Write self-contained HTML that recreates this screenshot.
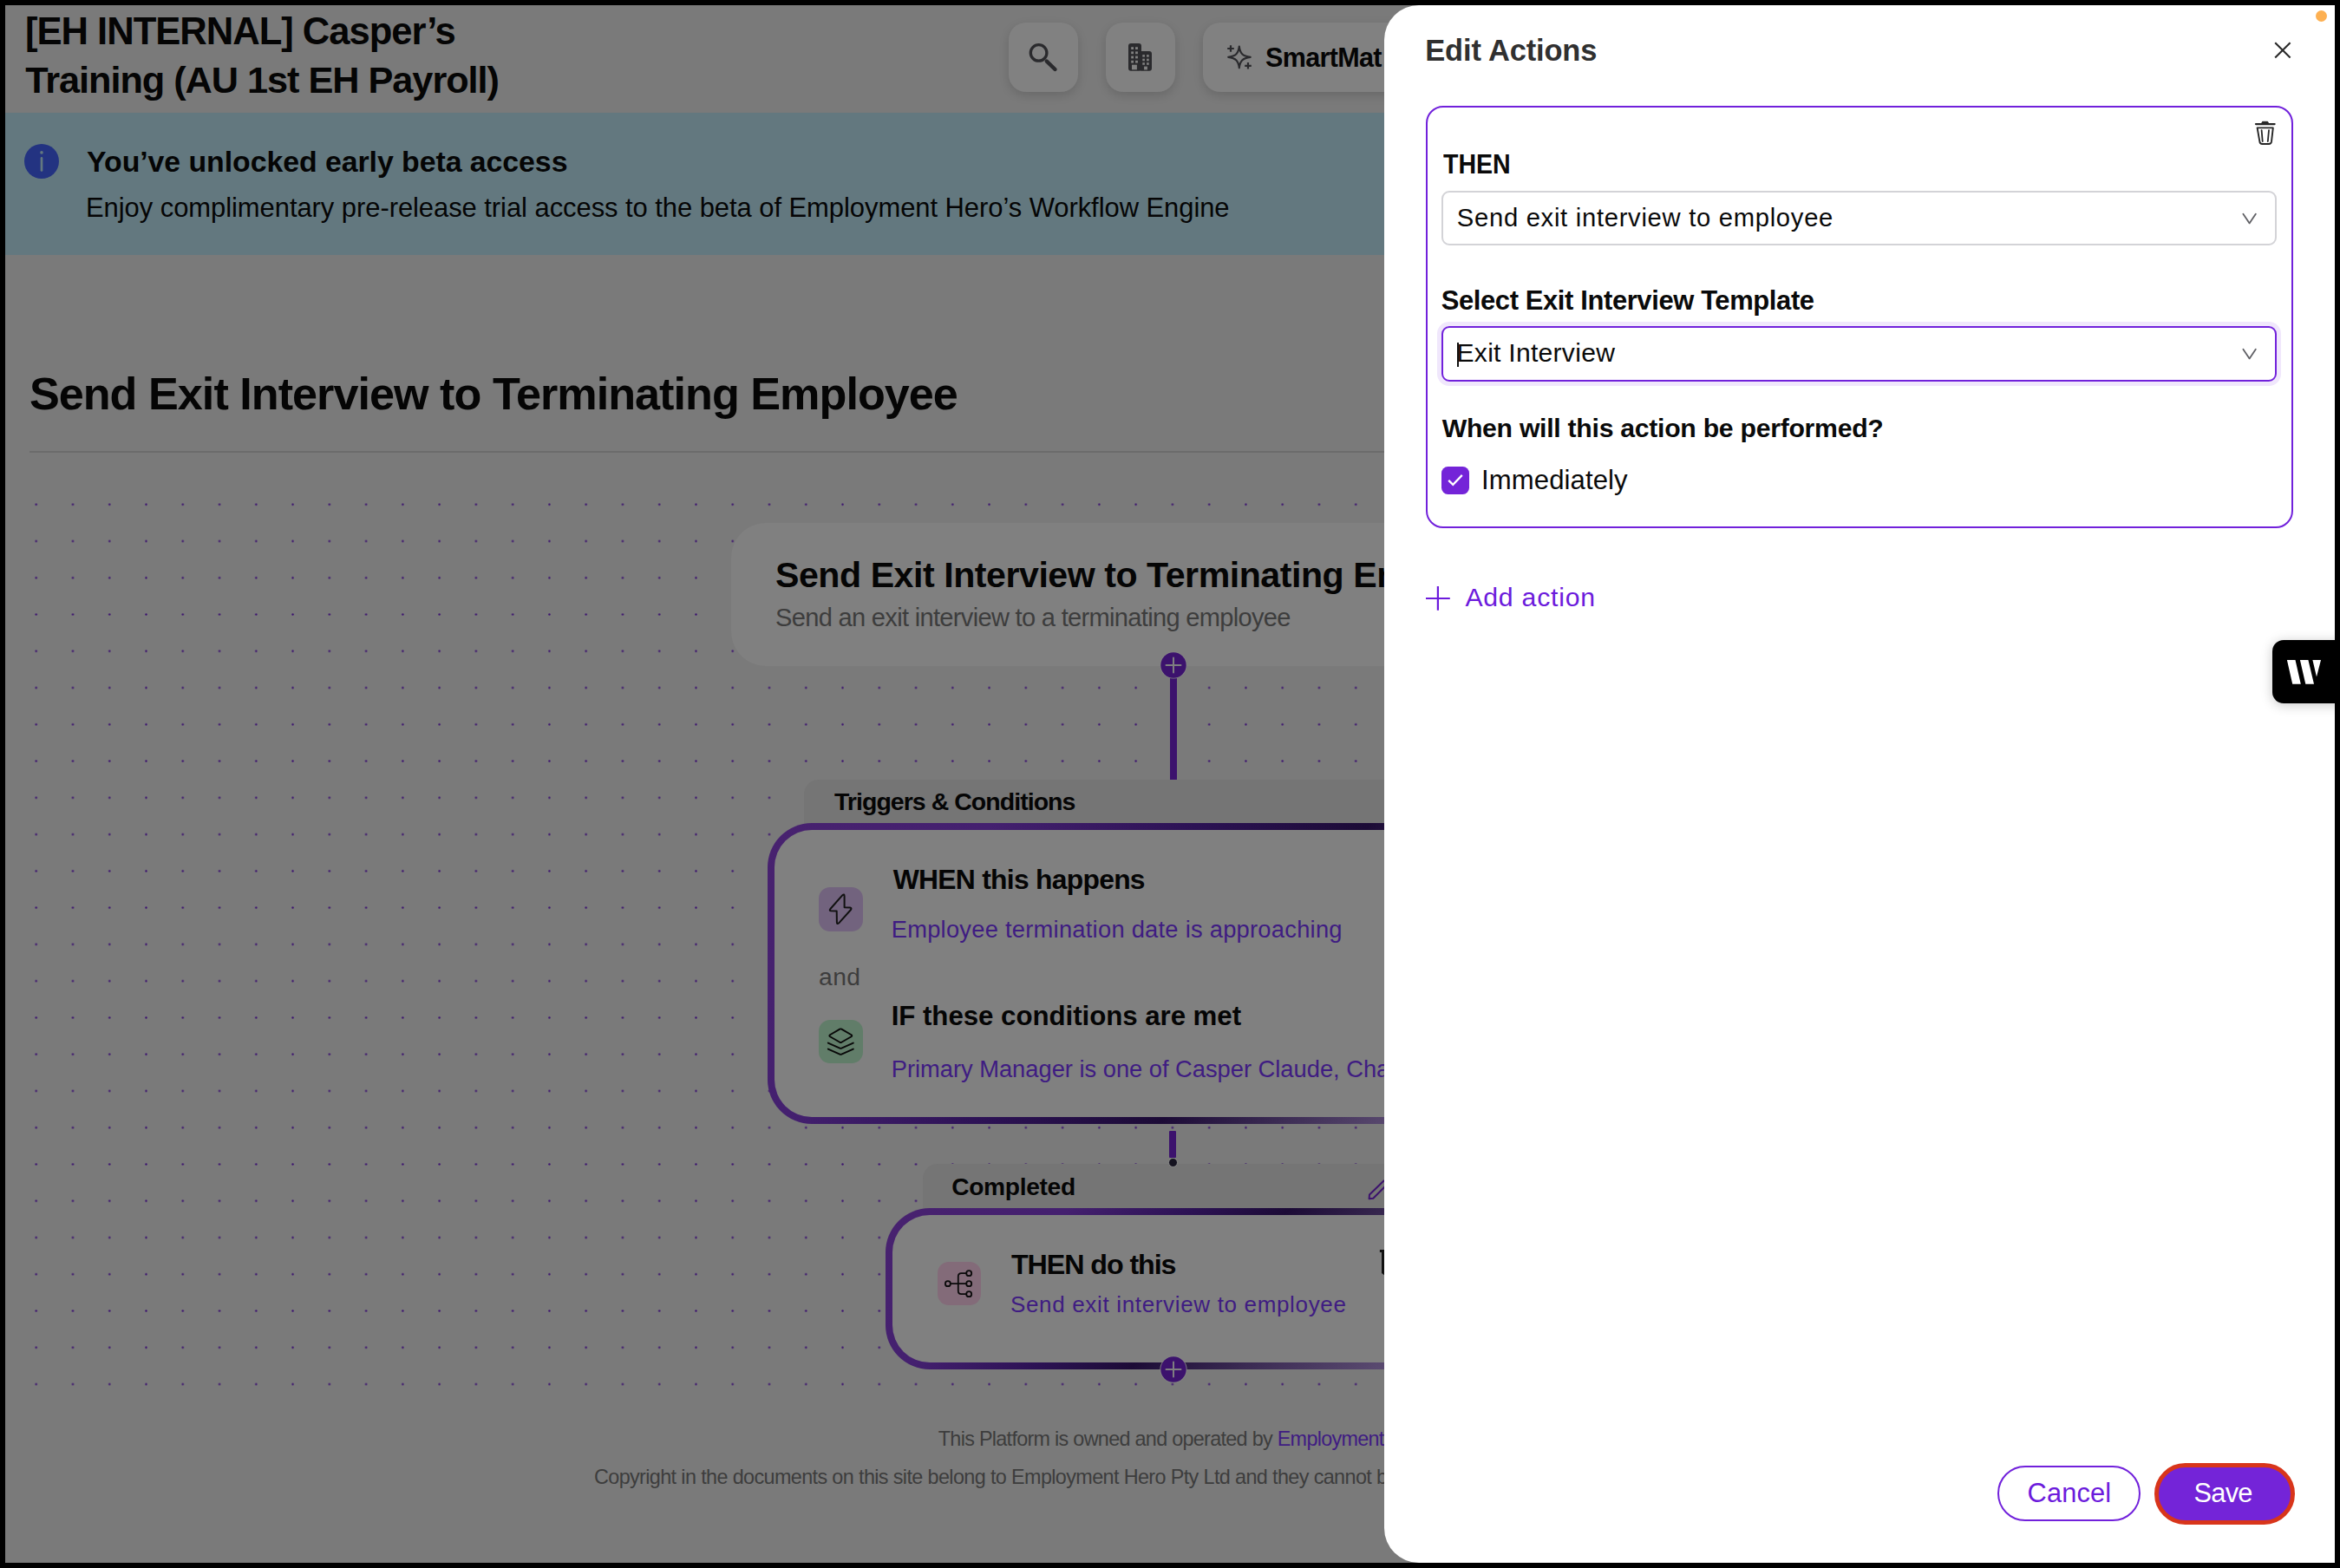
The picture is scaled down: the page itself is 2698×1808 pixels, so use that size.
<!DOCTYPE html><html><head><meta charset="utf-8"><style>
*{box-sizing:border-box;margin:0;padding:0}
html,body{width:2698px;height:1808px;overflow:hidden;background:#000}
body{position:relative;font-family:"Liberation Sans",sans-serif}
.abs{position:absolute}
.tx{position:absolute;white-space:nowrap}
#page{position:absolute;left:6px;top:6px;width:2686px;height:1796px;background:#7a7a7a;overflow:hidden}
.hbtn{position:absolute;top:26px;height:80px;background:#818181;border-radius:20px;box-shadow:0 4px 12px rgba(0,0,0,0.14)}
.ibox{position:absolute;border-radius:13px}
.card{position:absolute;border:8px solid transparent}
#panel{position:absolute;left:1596px;top:6px;width:1096px;height:1796px;background:#fff;border-radius:40px 0 0 40px;overflow:hidden}
</style></head><body>
<div id="page"></div>

<div class="hbtn" style="left:1163px;width:80px"></div>
<div class="hbtn" style="left:1275px;width:80px"></div>
<div class="hbtn" style="left:1387px;width:400px"></div>
<svg class="abs" style="left:1160px;top:20px" width="80" height="80" viewBox="1160 20 80 80"><circle cx="1197.6" cy="60.9" r="9.3" fill="none" stroke="#2a2a2d" stroke-width="3.3"/><line x1="1206.8" y1="70.6" x2="1216.5" y2="80" stroke="#2a2a2d" stroke-width="4.4" stroke-linecap="round"/></svg>
<svg class="abs" style="left:1295px;top:45px" width="40" height="42" viewBox="1295 45 40 42"><rect x="1301" y="50" width="15" height="31.7" rx="3" fill="#2a2a2d"/><rect x="1313" y="59" width="15" height="22.7" rx="3" fill="#2a2a2d"/><rect x="1304.2" y="54.2" width="2.8" height="2.8" fill="#818181"/><rect x="1309.1" y="54.2" width="2.8" height="2.8" fill="#818181"/><rect x="1304.2" y="59.4" width="2.8" height="2.8" fill="#818181"/><rect x="1309.1" y="59.4" width="2.8" height="2.8" fill="#818181"/><rect x="1304.2" y="64.6" width="2.8" height="2.8" fill="#818181"/><rect x="1309.1" y="64.6" width="2.8" height="2.8" fill="#818181"/><rect x="1304.2" y="69.8" width="2.8" height="2.8" fill="#818181"/><rect x="1309.1" y="69.8" width="2.8" height="2.8" fill="#818181"/><rect x="1317.3" y="63.1" width="2.6" height="2.6" fill="#818181"/><rect x="1322.1" y="63.1" width="2.6" height="2.6" fill="#818181"/><rect x="1317.3" y="67.7" width="2.6" height="2.6" fill="#818181"/><rect x="1322.1" y="67.7" width="2.6" height="2.6" fill="#818181"/><rect x="1317.3" y="72.2" width="2.6" height="2.6" fill="#818181"/><rect x="1322.1" y="72.2" width="2.6" height="2.6" fill="#818181"/><rect x="1305" y="74.7" width="5.9" height="5.6" fill="#818181"/><rect x="1319.1" y="76.6" width="3.8" height="3.8" fill="#818181"/></svg>
<svg class="abs" style="left:1408px;top:46px" width="44" height="40" viewBox="1408 46 44 40"><path d="M1428.8 53.5 C1429.8 61.5 1432.5 64.8 1441.7 65.9 C1432.5 67 1429.8 70.3 1428.8 78.3 C1427.8 70.3 1425.1 67 1416.2 65.9 C1425.1 64.8 1427.8 61.5 1428.8 53.5 Z" fill="none" stroke="#2a2a2d" stroke-width="2.1" stroke-linejoin="round"/><path d="M1419 52.2 V59.8 M1415.2 56 H1422.8 M1439 72 V79.6 M1435.2 75.9 H1442.8" stroke="#2a2a2d" stroke-width="2.2"/></svg>
<div class="tx" style="left:29.00px;top:14.98px;font-size:43.605px;line-height:43.605px;font-weight:700;color:#050505;letter-spacing:-1.024px">[EH INTERNAL] Casper’s</div>
<div class="tx" style="left:29.20px;top:71.13px;font-size:43.315px;line-height:43.315px;font-weight:700;color:#050505;letter-spacing:-1.044px">Training (AU 1st EH Payroll)</div>
<div class="tx" style="left:1459.00px;top:50.66px;font-size:30.524px;line-height:30.524px;font-weight:700;color:#050505;letter-spacing:-0.667px">SmartMat<span style="margin-left:7px">ch</span></div>
<div class="abs" style="left:6px;top:130px;width:2686px;height:164px;background:#63787f"></div>
<svg class="abs" style="left:26px;top:164px" width="44" height="44" viewBox="26 164 44 44"><circle cx="48" cy="186" r="20" fill="#233381"/><circle cx="48" cy="175.9" r="1.8" fill="#63787f"/><line x1="48" y1="182.4" x2="48" y2="196.4" stroke="#63787f" stroke-width="2.7" stroke-linecap="round"/></svg>
<div class="tx" style="left:100.00px;top:170.32px;font-size:33.867px;line-height:33.867px;font-weight:700;color:#050505;letter-spacing:-0.062px">You’ve unlocked early beta access</div>
<div class="tx" style="left:99.00px;top:224.79px;font-size:30.960px;line-height:30.960px;font-weight:400;color:#050505;letter-spacing:-0.054px">Enjoy complimentary pre-release trial access to the beta of Employment Hero’s Workflow Engine</div>
<div class="tx" style="left:33.90px;top:428.02px;font-size:52.181px;line-height:52.181px;font-weight:700;color:#050505;letter-spacing:-0.983px">Send Exit Interview to Terminating Employee</div>
<div class="abs" style="left:34px;top:520px;width:2600px;height:2px;background:#6c6c6c"></div>
<svg class="abs" style="left:6px;top:560px" width="1590" height="1058"><defs><pattern id="dp" x="14.588" y="0.588" width="42.264" height="42.264" patternUnits="userSpaceOnUse"><circle cx="21.132" cy="21.132" r="1.2" fill="#3a0f6e"/></pattern></defs><rect x="0" y="0" width="1590" height="1058" fill="url(#dp)"/></svg>
<div class="abs" style="left:843px;top:603px;width:1019px;height:165px;background:#808080;border-radius:40px"></div>
<div class="tx" style="left:894.00px;top:643.47px;font-size:41.134px;line-height:41.134px;font-weight:700;color:#050505;letter-spacing:-0.464px">Send Exit Interview to Terminating Employee</div>
<div class="tx" style="left:894.00px;top:698.09px;font-size:29.070px;line-height:29.070px;font-weight:400;color:#3d3d3d;letter-spacing:-0.687px">Send an exit interview to a terminating employee</div>
<div class="abs" style="left:1348.5px;top:770px;width:8px;height:130px;background:#3c126d"></div>
<svg class="abs" style="left:1335.2px;top:748.8px" width="36" height="36" viewBox="1335.2 748.8 36 36"><circle cx="1353.2" cy="766.8" r="15.6" fill="#858585"/><circle cx="1353.2" cy="766.8" r="14.7" fill="#3c126d"/><path d="M1344.7 766.8 H1361.7 M1353.2 758.1999999999999 V775.4" stroke="#7f7f80" stroke-width="2" stroke-linecap="round"/></svg>
<div class="abs" style="left:926.5px;top:899px;width:900px;height:70px;background:#757575;border-radius:17px 17px 0 0"></div>
<div class="tx" style="left:962.00px;top:910.48px;font-size:28.489px;line-height:28.489px;font-weight:700;color:#050505;letter-spacing:-0.950px">Triggers & Conditions</div>
<div class="card" style="left:885px;top:949px;width:935px;height:347px;border-radius:51px;background:linear-gradient(#808080,#808080) padding-box,linear-gradient(125deg,#48226f 0%,#44206f 22%,#2c1254 42%,#1c0b36 59%,#3a2a52 70%,#5a4a70 82%,#76707f 100%) border-box"></div>
<div class="ibox" style="left:944.2px;top:1023.3px;width:50.6px;height:50.5px;background:#72637e"></div>
<svg class="abs" style="left:944.2px;top:1023.3px" width="51" height="51" viewBox="0 0 51 51"><path d="M27.4 9.2 Q29.6 7.2 29.6 10.4 L29.6 23.2 L36 23.5 Q38.4 24 37 26 L23.2 41.3 Q21 43.2 20.9 40.4 L20.7 27.5 L14.2 27.3 Q11.8 27 13.4 25 Z" fill="none" stroke="#111" stroke-width="2" stroke-linejoin="round"/></svg>
<div class="tx" style="left:1029.70px;top:999.25px;font-size:31.832px;line-height:31.832px;font-weight:700;color:#050505;letter-spacing:-0.719px">WHEN this happens</div>
<div class="tx" style="left:1027.70px;top:1058.36px;font-size:27.326px;line-height:27.326px;font-weight:400;color:#3f1c82;letter-spacing:0.249px">Employee termination date is approaching</div>
<div class="tx" style="left:944.00px;top:1112.12px;font-size:28.198px;line-height:28.198px;font-weight:400;color:#3d3d3d;letter-spacing:0.500px">and</div>
<div class="ibox" style="left:944.2px;top:1175.5px;width:50.6px;height:50.3px;background:#617d69"></div>
<svg class="abs" style="left:944.2px;top:1175.5px" width="51" height="51" viewBox="0 0 51 51"><path d="M24.3 10.6 Q25.3 10.1 26.3 10.6 L37.6 17.2 Q38.9 18.2 37.6 19.2 L26.3 25.8 Q25.3 26.3 24.3 25.8 L13 19.2 Q11.7 18.2 13 17.2 Z" fill="none" stroke="#080808" stroke-width="1.9" stroke-linejoin="round"/><path d="M10.8 26.6 L24.3 32.6 Q25.3 33.1 26.3 32.6 L39.8 26.6 M10.8 33.6 L24.3 39.6 Q25.3 40.1 26.3 39.6 L39.8 33.6" fill="none" stroke="#080808" stroke-width="1.9" stroke-linecap="round" stroke-linejoin="round"/></svg>
<div class="tx" style="left:1027.70px;top:1156.04px;font-size:31.251px;line-height:31.251px;font-weight:700;color:#050505;letter-spacing:-0.046px">IF these conditions are met</div>
<div class="tx" style="left:1027.70px;top:1219.36px;font-size:27.326px;line-height:27.326px;font-weight:400;color:#3f1c82;letter-spacing:-0.018px">Primary Manager is one of Casper Claude, Charlie Brown</div>
<div class="abs" style="left:1348px;top:1304px;width:8px;height:31px;background:#3c126d;border-radius:1px"></div>
<div class="abs" style="left:1063.5px;top:1342px;width:700px;height:70px;background:#757575;border-radius:17px 17px 0 0"></div>
<div class="tx" style="left:1097.20px;top:1353.52px;font-size:28.198px;line-height:28.198px;font-weight:700;color:#050505;letter-spacing:-0.338px">Completed</div>
<div class="abs" style="left:1346.5px;top:1334.5px;width:11px;height:11px;border-radius:50%;background:#151320;border:1px solid #8a8a8a"></div>
<svg class="abs" style="left:1570px;top:1352px" width="30" height="36" viewBox="1570 1352 30 36"><path d="M1596 1361 L1579 1377.5 L1578.6 1382.2 L1583.3 1381.8 L1600 1365" fill="none" stroke="#3c126d" stroke-width="2" stroke-linejoin="round"/></svg>
<div class="card" style="left:1021px;top:1393px;width:663px;height:186px;border-radius:51px;background:linear-gradient(#808080,#808080) padding-box,linear-gradient(135deg,#48226f 0%,#44206f 25%,#2c1254 42%,#1c0b36 55%,#3a2a52 70%,#5a4a70 89%,#76707f 100%) border-box"></div>
<div class="ibox" style="left:1080.6px;top:1454.6px;width:50.3px;height:50.3px;background:#836b79"></div>
<svg class="abs" style="left:1080.6px;top:1454.6px" width="51" height="51" viewBox="0 0 51 51" fill="none" stroke="#0a0a0a" stroke-width="1.8"><circle cx="11.9" cy="25.2" r="3"/><circle cx="36.2" cy="13.2" r="3"/><circle cx="36.2" cy="25.2" r="3"/><circle cx="36.2" cy="37.2" r="3"/><path d="M14.9 25.2 H33.2 M33.2 13.2 H27.4 Q23.8 13.2 23.8 16.8 V33.6 Q23.8 37.2 27.4 37.2 H33.2"/></svg>
<div class="tx" style="left:1166.00px;top:1441.88px;font-size:32.268px;line-height:32.268px;font-weight:700;color:#050505;letter-spacing:-1.091px">THEN do this</div>
<div class="tx" style="left:1165.00px;top:1490.77px;font-size:26.018px;line-height:26.018px;font-weight:400;color:#3f1c82;letter-spacing:0.660px">Send exit interview to employee</div>
<svg class="abs" style="left:1585px;top:1436px" width="12" height="40" viewBox="1585 1436 12 40"><path d="M1590.9 1441 H1597 V1471 L1593 1468 V1444 H1590.9 Z" fill="#111"/></svg>
<svg class="abs" style="left:1335.3px;top:1560.7px" width="36" height="36" viewBox="1335.3 1560.7 36 36"><circle cx="1353.3" cy="1578.7" r="15.6" fill="#858585"/><circle cx="1353.3" cy="1578.7" r="14.7" fill="#3c126d"/><path d="M1344.8 1578.7 H1361.8 M1353.3 1570.1000000000001 V1587.3" stroke="#7f7f80" stroke-width="2" stroke-linecap="round"/></svg>
<div class="tx" style="left:1081.80px;top:1647.59px;font-size:23.402px;line-height:23.402px;font-weight:400;color:#3d3d3d;letter-spacing:-0.711px">This Platform is owned and operated by&nbsp;<span style="color:#3f1c82">Employment Hero Pty Ltd</span></div>
<div class="tx" style="left:685.00px;top:1691.79px;font-size:23.402px;line-height:23.402px;font-weight:400;color:#3d3d3d;letter-spacing:-0.625px">Copyright in the documents on this site belong to Employment Hero Pty Ltd and they cannot be reproduced</div>
<div id="panel"></div>
<div class="abs" style="left:2669.5px;top:11.5px;width:13px;height:13px;border-radius:50%;background:#fdb052"></div>
<svg class="abs" style="left:2618px;top:44px" width="28" height="28" viewBox="2618 44 28 28"><path d="M2623.2 49.2 L2640.6 66.6 M2640.6 49.2 L2623.2 66.6" stroke="#2a2a2a" stroke-width="2.1"/></svg>
<div class="tx" style="left:1643.20px;top:40.73px;font-size:34.448px;line-height:34.448px;font-weight:700;color:#303030;letter-spacing:-0.127px">Edit Actions</div>
<div class="abs" style="left:1644px;top:122px;width:1000px;height:487px;border:2.5px solid #7121db;border-radius:20px"></div>
<svg class="abs" style="left:2596px;top:136px" width="32" height="36" viewBox="2596 136 32 36"><path d="M2601 143.1 H2622.6" stroke="#262626" stroke-width="2.3" stroke-linecap="round"/><path d="M2607.3 143 L2608.6 140.3 H2614.6 L2615.9 143 Z" fill="#262626" stroke="#262626" stroke-width="1"/><path d="M2602.6 147.4 H2620.8 L2619 163.4 Q2618.6 166 2616 166 H2608.3 Q2605.7 166 2605.4 163.4 Z" fill="none" stroke="#262626" stroke-width="1.9" stroke-linejoin="round"/><path d="M2607.6 150.2 L2608.7 163 M2616 150.2 L2614.8 163" stroke="#262626" stroke-width="1.8" stroke-linecap="round"/></svg>
<div class="tx" style="left:1663.50px;top:173.77px;font-size:31.687px;line-height:31.687px;transform:scaleX(0.9012);transform-origin:0 0;font-weight:700;color:#0a0a0a;letter-spacing:0.000px">THEN</div>
<div class="abs" style="left:1662px;top:220px;width:963px;height:63px;border:2px solid #d3d3d7;border-radius:9px"></div>
<svg class="abs" style="left:2582px;top:244.1px" width="24" height="20" viewBox="2582 244.1 24 20"><path d="M2586.4 246.9 L2593.6 257.5 L2600.8 246.9" fill="none" stroke="#606065" stroke-width="1.8" stroke-linejoin="round" stroke-linecap="round"/></svg>
<div class="tx" style="left:1679.80px;top:236.96px;font-size:29.216px;line-height:29.216px;font-weight:400;color:#0a0a0a;letter-spacing:0.707px">Send exit interview to employee</div>
<div class="tx" style="left:1661.70px;top:331.99px;font-size:30.960px;line-height:30.960px;font-weight:700;color:#0a0a0a;letter-spacing:-0.386px">Select Exit Interview Template</div>
<div class="abs" style="left:1662px;top:376px;width:963px;height:63.5px;border:2px solid #7121db;border-radius:9px;box-shadow:0 0 0 5px #f0e7fc"></div>
<svg class="abs" style="left:2582px;top:400px" width="24" height="20" viewBox="2582 400 24 20"><path d="M2586.4 402.8 L2593.6 413.4 L2600.8 402.8" fill="none" stroke="#606065" stroke-width="1.8" stroke-linejoin="round" stroke-linecap="round"/></svg>
<div class="abs" style="left:1680px;top:394.5px;width:2px;height:28px;background:#111"></div>
<div class="tx" style="left:1679.50px;top:392.22px;font-size:30.088px;line-height:30.088px;font-weight:400;color:#0a0a0a;letter-spacing:0.269px">Exit Interview</div>
<div class="tx" style="left:1662.70px;top:479.00px;font-size:30.233px;line-height:30.233px;font-weight:700;color:#0a0a0a;letter-spacing:-0.285px">When will this action be performed?</div>
<div class="abs" style="left:1662.3px;top:538px;width:31.6px;height:31.7px;border-radius:7.5px;background:#7424d8"></div>
<svg class="abs" style="left:1662px;top:538px" width="32" height="32" viewBox="1662 538 32 32"><path d="M1670.2 553.9 L1675.3 558.9 L1685.8 547.9" fill="none" stroke="#fff" stroke-width="2.3" stroke-linecap="butt" stroke-linejoin="miter"/></svg>
<div class="tx" style="left:1708.00px;top:538.06px;font-size:31.105px;line-height:31.105px;font-weight:400;color:#0a0a0a;letter-spacing:0.100px">Immediately</div>
<svg class="abs" style="left:1640px;top:672px" width="36" height="36" viewBox="1640 672 36 36"><path d="M1644 690 H1671.8 M1657.9 676 V703.8" stroke="#6c1bdc" stroke-width="2.2"/></svg>
<div class="tx" style="left:1689.40px;top:674.20px;font-size:30.233px;line-height:30.233px;font-weight:400;color:#6c1bdc;letter-spacing:0.756px">Add action</div>
<div class="abs" style="left:2303px;top:1690px;width:165px;height:63.5px;border:2px solid #7121db;border-radius:32px"></div>
<div class="tx" style="left:2337.60px;top:1707.31px;font-size:30.814px;line-height:30.814px;font-weight:400;color:#6c1bdc;letter-spacing:0.120px">Cancel</div>
<div class="abs" style="left:2484px;top:1687px;width:161.5px;height:70.5px;border:5px solid #d8351b;border-radius:36px;background:#7424d8"></div>
<div class="tx" style="left:2529.50px;top:1707.31px;font-size:30.814px;line-height:30.814px;font-weight:400;color:#ffffff;letter-spacing:-0.767px">Save</div>
<div class="abs" style="left:2620px;top:738.4px;width:90px;height:72.4px;border-radius:13px 0 0 13px;background:#000;box-shadow:0 2px 14px rgba(0,0,0,0.22)"></div>
<svg class="abs" style="left:2630px;top:755px" width="52" height="40" viewBox="2630 755 52 40"><path d="M2636.9 761 H2646.5 L2652.8 788.8 H2643.2 Z M2651.9 761 H2661.4 L2668 788.8 H2658.3 Z M2666.4 761 H2676 L2671 780.4 Z" fill="#fff"/></svg>
<div class="abs" style="left:2692px;top:0;width:6px;height:1808px;background:#000"></div>
<div class="abs" style="left:0;top:1802px;width:2698px;height:6px;background:#000"></div>
<div class="abs" style="left:0;top:0;width:2698px;height:6px;background:#000"></div>
<div class="abs" style="left:0;top:0;width:6px;height:1808px;background:#000"></div>
</body></html>
